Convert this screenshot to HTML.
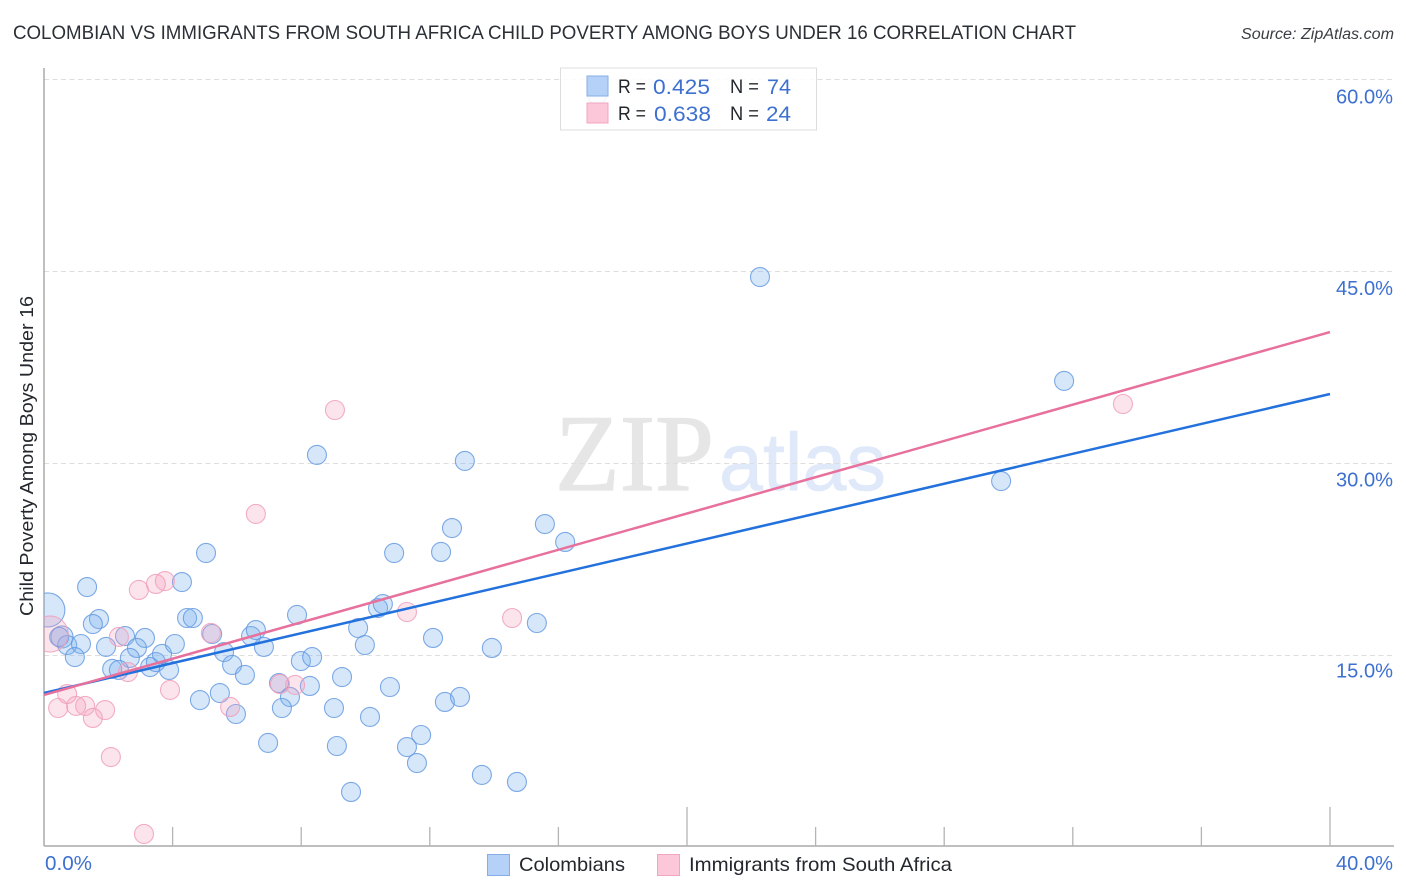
<!DOCTYPE html>
<html lang="en">
<head>
<meta charset="utf-8">
<title>Colombian vs Immigrants from South Africa Child Poverty Among Boys Under 16 Correlation Chart</title>
<style>
html,body{margin:0;padding:0;background:#fff;width:1406px;height:892px;overflow:hidden}
svg{display:block;font-family:"Liberation Sans",sans-serif}
.blue{fill:#3d70d0}
.dark{fill:#24282e}
</style>
</head>
<body>
<svg id="chart" xmlns="http://www.w3.org/2000/svg" width="1406" height="892" viewBox="0 0 1406 892">
  <defs>
    <clipPath id="plot-clip"><rect x="44" y="60" width="1350" height="786"/></clipPath>
  </defs>
  <rect x="0" y="0" width="1406" height="892" fill="#ffffff"/>
  <text x="13" y="39" font-size="19" fill="#2b2f36" textLength="1063" lengthAdjust="spacingAndGlyphs">COLOMBIAN VS IMMIGRANTS FROM SOUTH AFRICA CHILD POVERTY AMONG BOYS UNDER 16 CORRELATION CHART</text>
  <text x="1241" y="39" font-size="15.5" font-style="italic" fill="#3a3e44" textLength="153" lengthAdjust="spacingAndGlyphs">Source: ZipAtlas.com</text>
  <g>
    <text x="555" y="490" font-family="'Liberation Serif',serif" font-size="109" fill="#e6e6e6" stroke="#e6e6e6" stroke-width="1.2" textLength="159" lengthAdjust="spacingAndGlyphs">ZIP</text>
    <text x="719" y="490" font-size="82" fill="#dfe9f9" stroke="#dfe9f9" stroke-width="0.6" textLength="167" lengthAdjust="spacingAndGlyphs">atlas</text>
  </g>
  <g id="grid"></g>
  <g id="axes"></g>
  <g id="points-a" clip-path="url(#plot-clip)"></g>
  <g id="points-b" clip-path="url(#plot-clip)"></g>
  <g id="trends"></g>
  <g id="tick-labels"></g>
  <text transform="translate(33,616) rotate(-90)" x="0" y="0" font-size="18.5" fill="#24282e" textLength="320" lengthAdjust="spacingAndGlyphs">Child Poverty Among Boys Under 16</text>

  <g>
    <rect x="560.5" y="68" width="256" height="62" fill="#ffffff" fill-opacity="0.88" stroke="#dddddd" stroke-width="1"/>
    <rect x="587" y="76" width="21" height="20" fill="#b5d1f8" stroke="#86aee6" stroke-width="1"/>
    <rect x="587" y="103" width="21" height="20" fill="#fcc7d9" stroke="#f0a6c0" stroke-width="1"/>
    <text class="dark" x="618" y="93" font-size="19.5" textLength="28" lengthAdjust="spacingAndGlyphs">R =</text>
    <text class="blue" x="653" y="94" font-size="21" textLength="57" lengthAdjust="spacingAndGlyphs">0.425</text>
    <text class="dark" x="730" y="93" font-size="19.5" textLength="29" lengthAdjust="spacingAndGlyphs">N =</text>
    <text class="blue" x="767" y="94" font-size="21" textLength="24" lengthAdjust="spacingAndGlyphs">74</text>
    <text class="dark" x="618" y="120" font-size="19.5" textLength="28" lengthAdjust="spacingAndGlyphs">R =</text>
    <text class="blue" x="654" y="121" font-size="21" textLength="57" lengthAdjust="spacingAndGlyphs">0.638</text>
    <text class="dark" x="730" y="120" font-size="19.5" textLength="29" lengthAdjust="spacingAndGlyphs">N =</text>
    <text class="blue" x="766" y="121" font-size="21" textLength="25" lengthAdjust="spacingAndGlyphs">24</text>
  </g>

  <g>
    <g>
      <rect x="487.5" y="854.5" width="22" height="21" fill="#b5d1f8" stroke="#86aee6" stroke-width="1"/>
      <text class="dark" x="519" y="871" font-size="19.5" textLength="106" lengthAdjust="spacingAndGlyphs">Colombians</text>
    </g>
    <g>
      <rect x="657.5" y="854.5" width="22" height="21" fill="#fcc7d9" stroke="#f0a6c0" stroke-width="1"/>
      <text class="dark" x="689" y="871" font-size="19.5" textLength="263" lengthAdjust="spacingAndGlyphs">Immigrants from South Africa</text>
    </g>
  </g>
</svg>
<script>
// Chart data (percent values)
const colombiansX = [22.27,31.73,29.77,8.49,13.09,15.58,12.69,16.21,12.35,10.89,5.04,4.29,1.34,0.12,1.71,1.52,4.45,4.63,7.87,10.39,10.54,15.33,9.77,12.10,9.98,13.93,0.56,0.72,1.15,0.96,1.93,2.52,3.14,2.89,2.67,2.12,2.33,3.30,3.48,3.67,3.89,4.07,5.23,5.60,5.85,6.25,6.44,6.59,6.84,7.31,7.65,7.40,7.99,8.34,8.27,9.27,9.02,9.11,9.55,4.85,5.47,5.97,6.97,10.14,10.76,11.29,11.73,11.60,12.47,12.94,13.62,14.71,17.20,0.47];
const colombiansY = [44.53,36.41,28.59,30.63,30.16,25.23,24.92,23.83,23.05,22.97,22.97,20.70,20.31,18.52,17.81,17.42,17.89,17.89,18.13,18.67,18.98,17.50,17.11,16.33,15.78,15.55,16.41,15.78,15.86,14.84,15.63,16.48,16.33,15.55,14.77,13.91,13.83,14.06,14.45,15.08,13.83,15.86,16.64,15.23,14.22,13.44,16.48,16.95,15.63,12.81,11.72,10.86,14.53,14.84,12.58,13.28,10.86,7.89,4.30,11.48,12.03,10.39,8.13,10.16,12.50,7.81,8.75,6.56,11.33,11.72,5.63,5.08,58.75,16.41];
const colombiansWeight = [1,1,1,1,1,1,1,1,1,1,1,1,1,3.2,1,1,1,1,1,1,1,1,1,1,1,1,1.35,1,1,1,1,1,1,1,1,1,1,1,1,1,1,1,1,1,1,1,1,1,1,1,1,1,1,1,1,1,1,1,1,1,1,1,1,1,1,1,1,1,1,1,1,1,1,1];
const immigrantsX = [33.56,9.05,6.59,2.95,3.48,3.76,11.29,14.56,2.33,5.19,0.19,2.61,0.72,0.44,1.00,1.28,1.52,1.90,2.08,3.92,3.11,5.79,7.34,7.81];
const immigrantsY = [34.61,34.14,26.02,20.08,20.55,20.78,18.36,17.89,16.41,16.72,16.64,13.67,11.95,10.86,11.02,11.02,10.08,10.70,7.03,12.27,1.02,10.94,12.73,12.66];
const immigrantsWeight = [1,1,1,1,1,1,1,1,1,1,3.6,1,1,1,1,1,1,1,1,1,1,1,1,1];
const trendDomain = [0,40];
const colombiansTrend = [12.03,35.39];
const immigrantsTrend = [11.88,40.23];
const yGridValues = [15,30,45,60];
const yTickLabels = ["15.0%","30.0%","45.0%","60.0%"];
const xTickValues = [4,8,12,16,20,24,28,32,36,40];
const xMajorValues = [20,40];
const xEndValues = [0,40];
const xEndLabels = ["0.0%","40.0%"];

const NS = "http://www.w3.org/2000/svg";
const xScale = v => 44 + v * 32.15;
const yScale = v => 847 - v * 12.8;
const yLabelScale = v => 103.5 + (60 - v) * 12.76;
const BASE_R = 9.5;

function make(tag, parentId, attrs) {
  const el = document.createElementNS(NS, tag);
  for (const k in attrs) el.setAttribute(k, attrs[k]);
  document.getElementById(parentId).appendChild(el);
  return el;
}

// Gridlines and y tick labels
yGridValues.forEach((v, i) => {
  const line = make("line", "grid", {x1: 44, x2: 1394, y1: yScale(v) + 0.5, y2: yScale(v) + 0.5, stroke: "#dedede", "stroke-width": 1, "stroke-dasharray": "5 3.5"});
  
  
  const labelLen = yTickLabels[i].length > 4 ? 57 : 47;
  const t = make("text", "tick-labels", {x: 1336, y: yLabelScale(v), "font-size": 20, fill: "#3d70d0", textLength: labelLen, lengthAdjust: "spacingAndGlyphs"});
  t.textContent = yTickLabels[i];
  
  
});

// Axis lines
const yAxisLine = make("line", "axes", {x1: 44, x2: 44, y1: 68, y2: 846, stroke: "#aaaaaa", "stroke-width": 1.5});


const xAxisLine = make("line", "axes", {x1: 44, x2: 1394, y1: 846, y2: 846, stroke: "#aaaaaa", "stroke-width": 1.5});



// X ticks
xTickValues.forEach(v => {
  const top = xMajorValues.includes(v) ? 807 : 827;
  const tick = make("line", "axes", {x1: xScale(v), x2: xScale(v), y1: top, y2: 846, stroke: "#b4b4b4", "stroke-width": 1.3});
  
  
});

// X end labels
xEndValues.forEach((v, i) => {
  const t = make("text", "tick-labels", v === 0
    ? {x: xScale(v) + 1, y: 870, "font-size": 20, fill: "#3d70d0", textLength: 47, lengthAdjust: "spacingAndGlyphs"}
    : {x: 1336, y: 870, "font-size": 20, fill: "#3d70d0", textLength: 57, lengthAdjust: "spacingAndGlyphs"});
  t.textContent = xEndLabels[i];
  
  
});

// Points
colombiansX.forEach((v, i) => {
  const c = make("circle", "points-a", {cx: xScale(v), cy: yScale(colombiansY[i]), r: BASE_R * Math.sqrt(colombiansWeight[i]), fill: "#78aef0", "fill-opacity": 0.3, stroke: "#5f96e0", "stroke-opacity": 0.8, "stroke-width": 1.1});
  
  
});
immigrantsX.forEach((v, i) => {
  const c = make("circle", "points-b", {cx: xScale(v), cy: yScale(immigrantsY[i]), r: BASE_R * Math.sqrt(immigrantsWeight[i]), fill: "#f59ab8", "fill-opacity": 0.27, stroke: "#f0a0bc", "stroke-opacity": 0.85, "stroke-width": 1.1});
  
  
});

// Trend lines
const blueTrendLine = make("line", "trends", {x1: xScale(trendDomain[0]), x2: xScale(trendDomain[1]), y1: yScale(colombiansTrend[0]), y2: yScale(colombiansTrend[1]), stroke: "#2271dc", "stroke-width": 2.5});


const pinkTrendLine = make("line", "trends", {x1: xScale(trendDomain[0]), x2: xScale(trendDomain[1]), y1: yScale(immigrantsTrend[0]), y2: yScale(immigrantsTrend[1]), stroke: "#e8709c", "stroke-width": 2.5});


</script>
</body>
</html>
